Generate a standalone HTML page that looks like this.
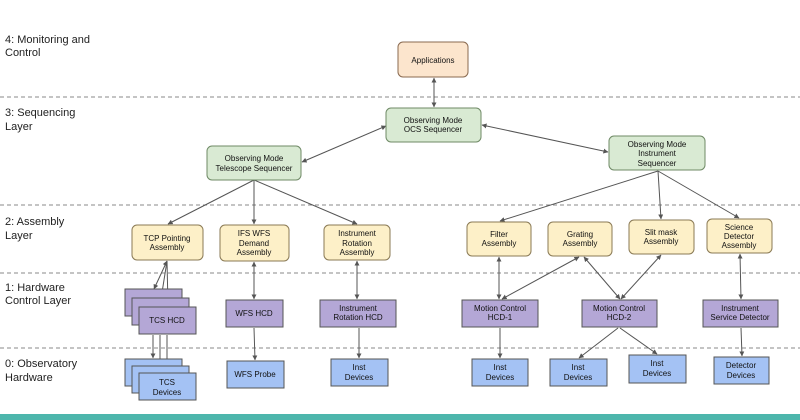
<!DOCTYPE html>
<html><head><meta charset="utf-8"><style>
body{margin:0;background:#fff}
svg{display:block}
text{font-family:"Liberation Sans",sans-serif;font-size:8px;fill:#111;text-anchor:middle}
.lbl{font-size:11px;text-anchor:start;fill:#222}
.y{fill:#fdf0c8;stroke:#8a7a55;stroke-width:1}
.g{fill:#d9ead3;stroke:#6f8a66;stroke-width:1}
.p{fill:#b4a7d6;stroke:#555;stroke-width:1}
.b{fill:#a4c2f4;stroke:#555;stroke-width:1}
.a{fill:#fce5cd;stroke:#8a6a50;stroke-width:1}
.e{stroke:#555;stroke-width:1;fill:none}
.d{stroke:#888;stroke-width:1;stroke-dasharray:4,3}
</style></head><body>
<svg width="800" height="420" viewBox="0 0 800 420">
<defs><marker id="m" viewBox="0 0 6 6" refX="5.5" refY="3" markerWidth="5" markerHeight="5" orient="auto-start-reverse"><path d="M0,0L6,3L0,6z" fill="#555"/></marker></defs>
<line class="d" x1="0" y1="97" x2="800" y2="97"/>
<line class="d" x1="0" y1="205" x2="800" y2="205"/>
<line class="d" x1="0" y1="273" x2="800" y2="273"/>
<line class="d" x1="0" y1="348" x2="800" y2="348"/>
<rect x="0" y="414" width="800" height="6" fill="#4db6ac"/>
<text class="lbl" x="5" y="43">4: Monitoring and</text><text class="lbl" x="5" y="56">Control</text>
<text class="lbl" x="5" y="116">3: Sequencing</text><text class="lbl" x="5" y="130">Layer</text>
<text class="lbl" x="5" y="225">2: Assembly</text><text class="lbl" x="5" y="239">Layer</text>
<text class="lbl" x="5" y="291">1: Hardware</text><text class="lbl" x="5" y="304">Control Layer</text>
<text class="lbl" x="5" y="367">0: Observatory</text><text class="lbl" x="5" y="381">Hardware</text>
<!-- edges -->
<g class="e">
<line x1="434" y1="78" x2="434" y2="107" marker-start="url(#m)" marker-end="url(#m)"/>
<line x1="386" y1="126" x2="302" y2="162" marker-start="url(#m)" marker-end="url(#m)"/>
<line x1="482" y1="125" x2="608" y2="152" marker-start="url(#m)" marker-end="url(#m)"/>
<line x1="254" y1="180" x2="168" y2="224" marker-end="url(#m)"/>
<line x1="254" y1="180" x2="254" y2="224" marker-end="url(#m)"/>
<line x1="254" y1="180" x2="357" y2="224" marker-end="url(#m)"/>
<line x1="658" y1="171" x2="500" y2="221" marker-end="url(#m)"/>
<line x1="658" y1="171" x2="661" y2="219" marker-end="url(#m)"/>
<line x1="658" y1="171" x2="739" y2="218" marker-end="url(#m)"/>
<line x1="167" y1="261" x2="154" y2="289" marker-start="url(#m)" marker-end="url(#m)"/>
<line x1="167" y1="261" x2="161" y2="299" marker-end="url(#m)"/>
<line x1="167" y1="261" x2="168" y2="306" marker-end="url(#m)"/>
<line x1="153" y1="335" x2="153" y2="358" marker-end="url(#m)"/>
<line x1="160" y1="335" x2="160" y2="365" marker-end="url(#m)"/>
<line x1="167" y1="335" x2="167" y2="372" marker-end="url(#m)"/>
<line x1="254" y1="262" x2="254" y2="299" marker-start="url(#m)" marker-end="url(#m)"/>
<line x1="357" y1="261" x2="357" y2="299" marker-start="url(#m)" marker-end="url(#m)"/>
<line x1="499" y1="257" x2="499" y2="299" marker-start="url(#m)" marker-end="url(#m)"/>
<line x1="579" y1="257" x2="502" y2="299" marker-start="url(#m)" marker-end="url(#m)"/>
<line x1="584" y1="257" x2="620" y2="299" marker-start="url(#m)" marker-end="url(#m)"/>
<line x1="661" y1="255" x2="621" y2="299" marker-start="url(#m)" marker-end="url(#m)"/>
<line x1="740" y1="254" x2="741" y2="299" marker-start="url(#m)" marker-end="url(#m)"/>
<line x1="254" y1="328" x2="255" y2="360" marker-end="url(#m)"/>
<line x1="359" y1="328" x2="359" y2="358" marker-end="url(#m)"/>
<line x1="500" y1="328" x2="500" y2="358" marker-end="url(#m)"/>
<line x1="618" y1="328" x2="579" y2="358" marker-end="url(#m)"/>
<line x1="620" y1="328" x2="657" y2="354" marker-end="url(#m)"/>
<line x1="741" y1="328" x2="742" y2="356" marker-end="url(#m)"/>
</g>
<!-- nodes -->
<rect class="a" x="398" y="42" width="70" height="35" rx="5"/><text x="433" y="63">Applications</text>
<rect class="g" x="386" y="108" width="95" height="34" rx="5"/><text x="433" y="123">Observing Mode</text><text x="433" y="132">OCS Sequencer</text>
<rect class="g" x="207" y="146" width="94" height="34" rx="5"/><text x="254" y="161">Observing Mode</text><text x="254" y="171">Telescope Sequencer</text>
<rect class="g" x="609" y="136" width="96" height="34" rx="5"/><text x="657" y="147">Observing Mode</text><text x="657" y="156">Instrument</text><text x="657" y="166">Sequencer</text>
<rect class="y" x="132" y="225" width="71" height="35" rx="5"/><text x="167" y="241">TCP Pointing</text><text x="167" y="250">Assembly</text>
<rect class="y" x="220" y="225" width="69" height="36" rx="5"/><text x="254" y="236">IFS WFS</text><text x="254" y="246">Demand</text><text x="254" y="255">Assembly</text>
<rect class="y" x="324" y="225" width="66" height="35" rx="5"/><text x="357" y="236">Instrument</text><text x="357" y="246">Rotation</text><text x="357" y="255">Assembly</text>
<rect class="y" x="467" y="222" width="64" height="34" rx="5"/><text x="499" y="237">Filter</text><text x="499" y="246">Assembly</text>
<rect class="y" x="548" y="222" width="64" height="34" rx="5"/><text x="580" y="237">Grating</text><text x="580" y="246">Assembly</text>
<rect class="y" x="629" y="220" width="65" height="34" rx="5"/><text x="661" y="235">Slit mask</text><text x="661" y="244">Assembly</text>
<rect class="y" x="707" y="219" width="65" height="34" rx="5"/><text x="739" y="230">Science</text><text x="739" y="239">Detector</text><text x="739" y="248">Assembly</text>
<rect class="p" x="125" y="289" width="57" height="27"/>
<rect class="p" x="132" y="298" width="57" height="27"/>
<rect class="p" x="139" y="307" width="57" height="27"/><text x="167" y="323">TCS HCD</text>
<rect class="p" x="226" y="300" width="57" height="27"/><text x="254" y="316">WFS HCD</text>
<rect class="p" x="320" y="300" width="76" height="27"/><text x="358" y="311">Instrument</text><text x="358" y="320">Rotation HCD</text>
<rect class="p" x="462" y="300" width="76" height="27"/><text x="500" y="311">Motion Control</text><text x="500" y="320">HCD-1</text>
<rect class="p" x="582" y="300" width="75" height="27"/><text x="619" y="311">Motion Control</text><text x="619" y="320">HCD-2</text>
<rect class="p" x="703" y="300" width="75" height="27"/><text x="740" y="311">Instrument</text><text x="740" y="320">Service Detector</text>
<rect class="b" x="125" y="359" width="57" height="27"/>
<rect class="b" x="132" y="366" width="57" height="27"/>
<rect class="b" x="139" y="373" width="57" height="27"/><text x="167" y="385">TCS</text><text x="167" y="395">Devices</text>
<rect class="b" x="227" y="361" width="57" height="27"/><text x="255" y="377">WFS Probe</text>
<rect class="b" x="331" y="359" width="57" height="27"/><text x="359" y="370">Inst</text><text x="359" y="380">Devices</text>
<rect class="b" x="472" y="359" width="56" height="27"/><text x="500" y="370">Inst</text><text x="500" y="380">Devices</text>
<rect class="b" x="550" y="359" width="57" height="27"/><text x="578" y="370">Inst</text><text x="578" y="380">Devices</text>
<rect class="b" x="629" y="355" width="57" height="28"/><text x="657" y="366">Inst</text><text x="657" y="376">Devices</text>
<rect class="b" x="714" y="357" width="55" height="27"/><text x="741" y="368">Detector</text><text x="741" y="378">Devices</text>
</svg>
</body></html>
